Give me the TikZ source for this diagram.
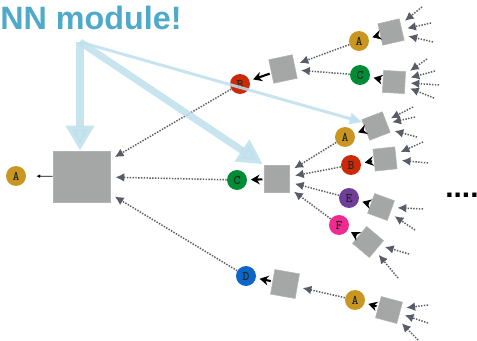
\documentclass[tikz,border=0pt]{standalone}
\usepackage{fontspec}
\setmainfont{Liberation Sans}
\usepackage{tikz}
\usetikzlibrary{arrows.meta, positioning}
\definecolor{nnblue}{RGB}{78,170,200}
\definecolor{hintblue}{RGB}{190,224,236}
\definecolor{modgray}{RGB}{165,167,166}
\definecolor{feedgray}{RGB}{88,92,102}
\definecolor{wordgold}{RGB}{201,151,33}
\definecolor{wordred}{RGB}{203,42,8}
\definecolor{wordgreen}{RGB}{0,140,52}
\definecolor{wordblue}{RGB}{12,102,200}
\definecolor{wordpurple}{RGB}{112,62,152}
\definecolor{wordpink}{RGB}{240,42,142}
\tikzset{
    word/.style={circle, inner sep=0pt, minimum size=0.4cm, text=black!85, font=\ttfamily\bfseries\fontsize{7.5}{7.5}\selectfont},
    module/.style={rectangle, draw=black!30, fill=modgray, line width=0.3pt, inner sep=0pt, minimum size=0.44cm},
    feed/.style={draw=feedgray, line width=0.85pt, dash pattern=on 0.8pt off 0.8pt, -{Latex[length=5pt, width=5pt]}, shorten >=3pt},
    emit/.style={line width=1.2pt, -{Stealth[length=5pt, width=5.5pt]}, shorten >=2pt, shorten <=1pt},
    hint/.style={draw=hintblue, opacity=0.85}
}
\newcommand{\feedin}[2]{%
    \foreach \fx/\fy [count=\fk] in {#2} {
        \coordinate (#1in\fk) at (\fx,\fy);
        \draw[feed] (#1in\fk) -- (#1);
    }}

\begin{document}
\begin{tikzpicture}[x=0.02cm, y=-0.02cm]
    \useasboundingbox (0,0) rectangle (477,341);

    \node (title) [anchor=base west, inner sep=0pt, text=nnblue, font=\bfseries\fontsize{18.4}{20}\selectfont] at (0,30) {NN module!};

    \node (top) [module, minimum width=1.14cm, minimum height=1.02cm] at (81.5,176.5) {};
    \node (out) [word, fill=wordgold] at (16,176) {A};

    \node (b) [word, fill=wordred] at (240,84) {B};
    \node (c) [word, fill=wordgreen] at (237,180) {C};
    \node (d) [word, fill=wordblue] at (246,276) {D};
    \node (mb) [module, minimum size=0.48cm, rotate=12] at (283,69) {};
    \node (mc) [module, minimum width=0.5cm, minimum height=0.54cm] at (277,179) {};
    \node (md) [module, minimum size=0.5cm, rotate=-10] at (285,284) {};

    \node (ba) [word, fill=wordgold] at (359,41) {A};
    \node (bc) [word, fill=wordgreen] at (360,75) {C};
    \node (ca) [word, fill=wordgold] at (345,137) {A};
    \node (cb) [word, fill=wordred] at (351,165) {B};
    \node (ce) [word, fill=wordpurple] at (349,198) {E};
    \node (cf) [word, fill=wordpink] at (339,225) {F};
    \node (da) [word, fill=wordgold] at (355,300) {A};

    \node (mba) [module, rotate=13] at (391,32) {};
    \node (mbc) [module, rotate=-3] at (394,82) {};
    \node (mca) [module, rotate=21] at (376,126) {};
    \node (mcb) [module, rotate=6] at (385,159) {};
    \node (mce) [module, minimum size=0.42cm, rotate=-20] at (381,207) {};
    \node (mcf) [module, rotate=-40] at (368,242) {};
    \node (mda) [module, rotate=-15] at (389,310) {};

    \node (more) [anchor=base west, inner sep=0pt, font=\bfseries\fontsize{17}{17}\selectfont] at (445,197.5) {....};

    \draw [line width=0.5pt, -{Latex[length=2.2pt, width=2.2pt]}, shorten >=0.2cm] (top) -- (out);
    \draw [feed] (b) -- (top);
    \draw [feed] (c) -- (top);
    \draw [feed] (d) -- (top);

    \draw [emit] (mb) -- (b);
    \draw [emit] (mc) -- (c);
    \draw [emit] (md) -- (d);
    \draw [feed] (ba) -- (mb);
    \draw [feed] (bc) -- (mb);
    \draw [feed] (ca) -- (mc);
    \draw [feed] (cb) -- (mc);
    \draw [feed] (ce) -- (mc);
    \draw [feed] (cf) -- (mc);
    \draw [feed] (da) -- (md);

    \draw [emit] (mba) -- (ba);
    \draw [emit] (mbc) -- (bc);
    \draw [emit] (mca) -- (ca);
    \draw [emit] (mcb) -- (cb);
    \draw [emit] (mce) -- (ce);
    \draw [emit] (mcf) -- (cf);
    \draw [emit] (mda) -- (da);

    \feedin{mba}{422/7, 431/23, 433/42}
    \feedin{mbc}{427/59, 435/71, 439/85, 434/98}
    \feedin{mca}{413/107, 415/117, 417/137}
    \feedin{mcb}{423/142, 428/163}
    \feedin{mce}{423/209, 415/230}
    \feedin{mcf}{409/254, 398/278}
    \feedin{mda}{428/305, 428/323, 418/340}

    \coordinate (src) at (80,42);
    \draw [hint, line width=0.16cm, -{Triangle[length=0.5cm, width=0.54cm]}] (src) -- (src |- top.north);
    \draw [hint, line width=0.14cm, -{Triangle[length=0.5cm, width=0.5cm]}, shorten >=1pt] (src) -- (mc.north west);
    \draw [hint, line width=0.06cm, -{Triangle[length=0.26cm, width=0.22cm]}] (src) -- (mca);
\end{tikzpicture}
\end{document}
